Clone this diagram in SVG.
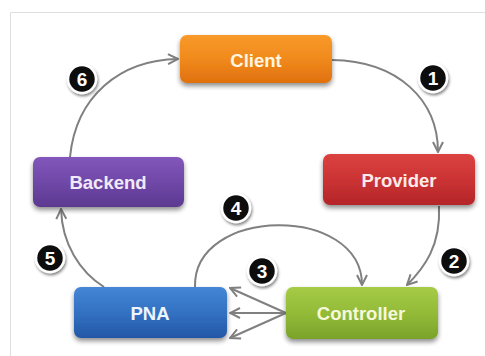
<svg xmlns="http://www.w3.org/2000/svg" width="485" height="356" viewBox="0 0 485 356">
  <defs>
    <linearGradient id="gOrange" x1="0" y1="0" x2="0" y2="1">
      <stop offset="0" stop-color="#f99a2a"/>
      <stop offset="0.5" stop-color="#f08a1c"/>
      <stop offset="1" stop-color="#e0700f"/>
    </linearGradient>
    <linearGradient id="gPurple" x1="0" y1="0" x2="0" y2="1">
      <stop offset="0" stop-color="#8256ba"/>
      <stop offset="0.5" stop-color="#7048a8"/>
      <stop offset="1" stop-color="#5c3990"/>
    </linearGradient>
    <linearGradient id="gRed" x1="0" y1="0" x2="0" y2="1">
      <stop offset="0" stop-color="#dc4240"/>
      <stop offset="0.5" stop-color="#cb3334"/>
      <stop offset="1" stop-color="#b42528"/>
    </linearGradient>
    <linearGradient id="gBlue" x1="0" y1="0" x2="0" y2="1">
      <stop offset="0" stop-color="#4586d6"/>
      <stop offset="0.5" stop-color="#3371c2"/>
      <stop offset="1" stop-color="#2357a6"/>
    </linearGradient>
    <linearGradient id="gGreen" x1="0" y1="0" x2="0" y2="1">
      <stop offset="0" stop-color="#a6cb46"/>
      <stop offset="0.5" stop-color="#93bb38"/>
      <stop offset="1" stop-color="#7aa22a"/>
    </linearGradient>
    <filter id="shadow" x="-20%" y="-30%" width="140%" height="170%">
      <feGaussianBlur in="SourceAlpha" stdDeviation="2.5"/>
      <feOffset dx="0" dy="3" result="b"/>
      <feComponentTransfer><feFuncA type="linear" slope="0.45"/></feComponentTransfer>
      <feMerge><feMergeNode/><feMergeNode in="SourceGraphic"/></feMerge>
    </filter>
    <filter id="badgeShadow" x="-50%" y="-50%" width="200%" height="200%">
      <feGaussianBlur in="SourceAlpha" stdDeviation="1.5"/>
      <feOffset dx="1" dy="2"/>
      <feComponentTransfer><feFuncA type="linear" slope="0.5"/></feComponentTransfer>
      <feMerge><feMergeNode/><feMergeNode in="SourceGraphic"/></feMerge>
    </filter>
    <marker id="chev" viewBox="0 0 12 12" refX="11" refY="6" markerWidth="12" markerHeight="12" markerUnits="userSpaceOnUse" orient="auto">
      <polyline points="1,1 11,6 1,11" fill="none" stroke="#808080" stroke-width="2"/>
    </marker>
  </defs>
  <style>
    .node rect { filter: url(#shadow); }
    .label { font-family: "Liberation Sans", Arial, sans-serif; font-weight: bold; font-size: 18.5px; text-anchor: middle; }
    .conn path, .conn line { fill: none; stroke: #808080; stroke-width: 2; marker-end: url(#chev); }
    .badge circle { fill: #111; stroke: #fff; stroke-width: 2.5; filter: url(#badgeShadow); }
    .badge text { font-family: "Liberation Sans", Arial, sans-serif; font-weight: bold; font-size: 19px; fill: #fff; text-anchor: middle; }
  </style>

  <rect width="485" height="356" fill="#fff"/>
  <!-- frame -->
  <path d="M10.5,356 V12.5 H485" fill="none" stroke="#dedede" stroke-width="1"/>

  <!-- connectors -->
  <g id="connectors" class="conn">
    <path d="M332,60 C398,61 438,100 438,152"/>
    <path d="M439,206 C441,246 424,268 407,285"/>
    <path d="M195,287 C193,206 362,204 362,285"/>
    <line x1="286" y1="313" x2="230" y2="288"/>
    <line x1="286" y1="313" x2="230" y2="313"/>
    <line x1="286" y1="313" x2="230" y2="338"/>
    <path d="M104,287 C80,272 62,244 61,209"/>
    <path d="M70,157 C76,96 120,60 178,59"/>
  </g>

  <!-- nodes -->
  <g id="client" class="node">
    <rect x="180" y="35" width="152" height="48" rx="7" fill="url(#gOrange)"/>
    <text class="label" x="256" y="66.5" fill="#fff6e0">Client</text>
  </g>
  <g id="provider" class="node">
    <rect x="323" y="154" width="152" height="51" rx="7" fill="url(#gRed)"/>
    <text class="label" x="399" y="186.5" fill="#fbeaea">Provider</text>
  </g>
  <g id="backend" class="node">
    <rect x="33" y="157" width="151" height="50" rx="7" fill="url(#gPurple)"/>
    <text class="label" x="108" y="189" fill="#f2eaf8">Backend</text>
  </g>
  <g id="pna" class="node">
    <rect x="74" y="287" width="153" height="51" rx="7" fill="url(#gBlue)"/>
    <text class="label" x="150" y="320" fill="#eef5fc">PNA</text>
  </g>
  <g id="controller" class="node">
    <rect x="286" y="287" width="152" height="52" rx="7" fill="url(#gGreen)"/>
    <text class="label" x="361" y="320" fill="#f6f8dc">Controller</text>
  </g>

  <!-- step badges -->
  <g id="badge1" class="badge"><circle cx="433" cy="78" r="14"/><text x="433" y="85">1</text></g>
  <g id="badge2" class="badge"><circle cx="454" cy="261" r="14"/><text x="454" y="268">2</text></g>
  <g id="badge3" class="badge"><circle cx="262" cy="271" r="14"/><text x="262" y="278">3</text></g>
  <g id="badge4" class="badge"><circle cx="236" cy="208" r="14"/><text x="236" y="215">4</text></g>
  <g id="badge5" class="badge"><circle cx="50" cy="258" r="14"/><text x="50" y="265">5</text></g>
  <g id="badge6" class="badge"><circle cx="82" cy="79" r="14"/><text x="82" y="86">6</text></g>
</svg>
